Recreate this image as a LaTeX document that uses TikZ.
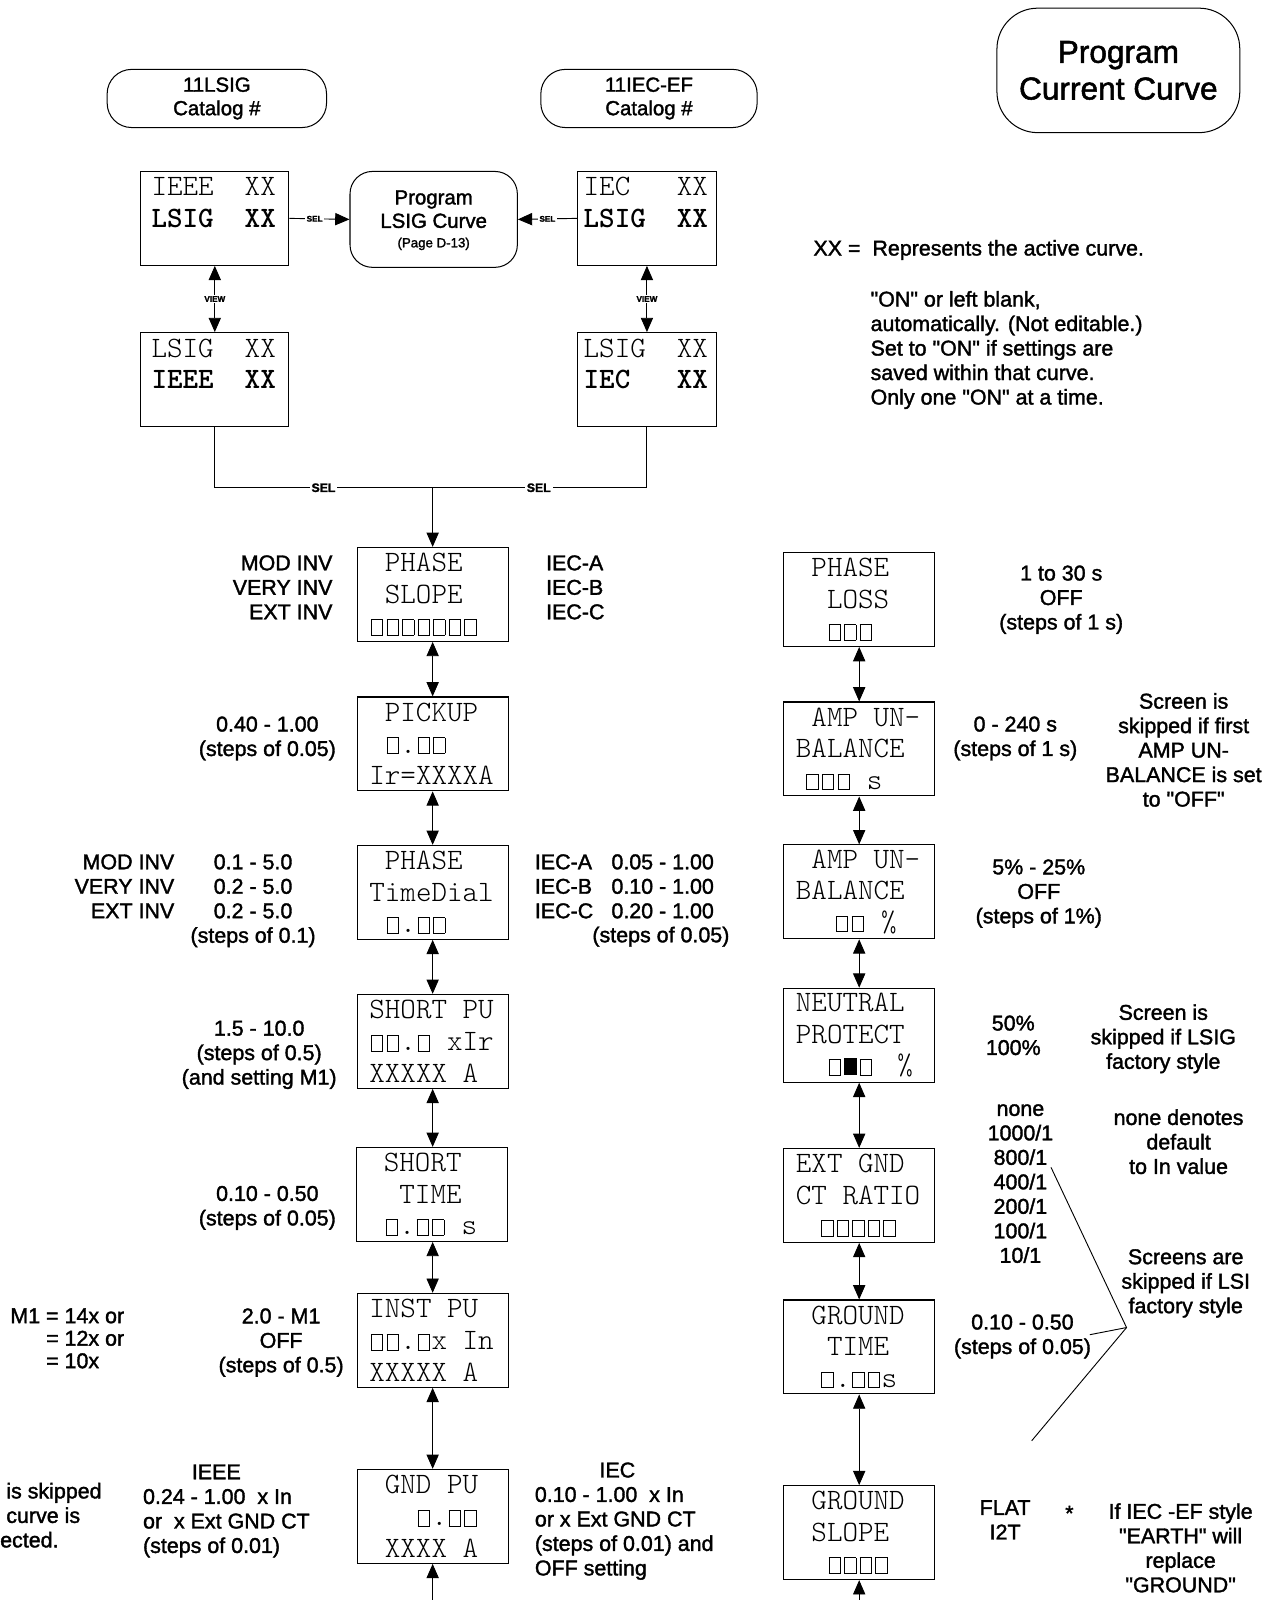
\documentclass[tikz,border=0pt]{standalone}
\usepackage{fontspec}
\setmainfont{Liberation Sans}[Ligatures=TeXOff, FakeBold=1.6]
\newfontfamily\scr{Latin Modern Mono Light}
\usetikzlibrary{arrows.meta}
\newcommand\sq{\makebox[0.525em]{\setlength\fboxsep{0pt}\setlength\fboxrule{0.8pt}\fbox{\rule{0pt}{0.5em}\hspace{0.36em}}}}
\newcommand\sqf{\makebox[0.525em]{\rule{0.42em}{0.56em}}}
\newcommand\ch[1]{\hspace*{#1em}}
\newcommand\spc{\hspace*{0.525em}}
\tikzset{
  screen/.style={draw, line width=1.1pt, minimum width=148pt, minimum height=92pt, inner sep=0pt, text width=124pt, align=left, font=\scr\fontsize{29}{31}\selectfont},
  tscreen/.style={screen, minimum width=145pt},
  rbox/.style={draw, line width=1pt, align=center, inner sep=0pt},
  lab/.style={inner sep=0pt, font=\fontsize{21}{24}\selectfont},
  arr/.style={line width=0.9pt, {Triangle[width=12pt,length=14pt]}-{Triangle[width=12pt,length=14pt]}},
  uarr/.style={line width=0.9pt, -{Triangle[width=12pt,length=14pt]}},
  ln/.style={line width=0.9pt},
  tag/.style={fill=white, inner sep=1.5pt, font=\bfseries\fontsize{8}{9}\selectfont},
  bigtag/.style={fill=white, inner sep=2pt, font=\bfseries\fontsize{12}{13}\selectfont},
}
\begin{document}
\begin{tikzpicture}[x=1pt,y=-1pt]
\useasboundingbox (0,0) rectangle (1258,1568);
\fill[white] (0,0) rectangle (1258,1568);

% top rounded boxes
\node[rbox, rounded corners=24pt, minimum width=215pt, minimum height=57pt, font=\fontsize{20}{23}\selectfont] (c1) at (212.5,96.5) {11LSIG\\Catalog \#};
\node[rbox, rounded corners=24pt, minimum width=212pt, minimum height=57pt, font=\fontsize{20}{23}\selectfont] (c2) at (636,96.5) {11IEC-EF\\Catalog \#};
\node[rbox, rounded corners=40pt, minimum width=238pt, minimum height=122pt, font=\fontsize{31}{36}\selectfont] (pc) at (1096,69) {Program\\Current Curve};

% top screens
\node[tscreen] (ti) at (210.5,214) {IEEE\spc\spc XX\\\textbf{LSIG\spc\spc XX}\\\mbox{}};
\node[tscreen] (li) at (210.5,372) {LSIG\spc\spc XX\\\textbf{IEEE\spc\spc XX}\\\mbox{}};
\node[tscreen, minimum width=136pt] (tc) at (634,214) {IEC\spc\spc\spc XX\\\textbf{LSIG\spc\spc XX}\\\mbox{}};
\node[tscreen, minimum width=136pt] (lc) at (634,372) {LSIG\spc\spc XX\\\textbf{IEC\spc\spc\spc XX}\\\mbox{}};

\node[rbox, rounded corners=22pt, minimum width=164pt, minimum height=94pt] (pl) at (425,215) {};
\node[align=center, inner sep=0pt, font=\fontsize{20}{23}\selectfont] (plt) at (425,205) {Program\\LSIG Curve};
\node[inner sep=0pt, font=\fontsize{13}{15}\selectfont] (plp) at (425,239) {(Page D-13)};

\draw[uarr] (ti.east) -- node[tag, pos=0.42]{SEL} (pl.west);
\draw[uarr] (tc.west) -- node[tag, pos=0.5]{SEL} (pl.east);
\draw[arr] (ti.south) -- node[tag]{VIEW} (li.north);
\draw[arr] (tc.south) -- node[tag]{VIEW} (lc.north);

% left column screens
\node[screen] (ps) at (424,582.5) {\ch{0.525}PHASE\\\ch{0.525}SLOPE\\\sq\sq\sq\sq\sq\sq\sq};
\node[screen] (pk) at (424,729) {\ch{0.525}PICKUP\\\ch{0.525}\sq.\sq\sq\\Ir=XXXXA};
\node[screen] (td) at (424,874.5) {\ch{0.525}PHASE\\TimeDial\\\ch{0.525}\sq.\sq\sq};
\node[screen] (sp) at (424,1020.5) {SHORT\spc PU\\\sq\sq.\sq\spc xIr\\XXXXX\spc A};
\node[screen] (st) at (423,1170.5) {\ch{0.525}SHORT\\\ch{1.05}TIME\\\ch{0.525}\sq.\sq\sq\spc s};
\node[screen] (ip) at (424,1313.5) {INST\spc PU\\\sq\sq.\sq x\spc In\\XXXXX\spc A};
\node[screen] (gp) at (424,1486) {\ch{0.525}GND\spc PU\\\ch{1.575}\sq.\sq\sq\\\ch{0.525}XXXX\spc A};

% right column screens
\node[screen] (pls) at (842,587.5) {\ch{0.525}PHASE\\\ch{1.05}LOSS\\\ch{1.05}\sq\sq\sq};
\node[screen] (au1) at (842,734) {\ch{0.525}AMP\spc UN-\\BALANCE\\\ch{0.3}\sq\sq\sq\spc s};
\node[screen] (au2) at (842,874) {\ch{0.525}AMP\spc UN-\\BALANCE\\\ch{1.3}\sq\sq\spc\%};
\node[screen] (np) at (842,1014.5) {NEUTRAL\\PROTECT\\\ch{1.05}\sq\sqf\sq\ch{0.8}\%};
\node[screen] (eg) at (842,1171.5) {EXT\spc GND\\CT\spc RATIO\\\ch{0.8}\sq\sq\sq\sq\sq};
\node[screen] (gt) at (842,1320) {\ch{0.525}GROUND\\\ch{1.05}TIME\\\ch{0.8}\sq.\sq\sq s};
\node[screen] (gs) at (842,1502) {\ch{0.525}GROUND\\\ch{0.525}SLOPE\\\ch{1.05}\sq\sq\sq\sq};

% SEL junction
\coordinate (jm) at (424,478);
\draw[ln] (li.south) |- (jm) -| (lc.south);
\node[bigtag] (s1) at (317,478) {SEL};
\node[bigtag] (s2) at (528,478) {SEL};
\draw[uarr] (jm) -- (ps.north);

% left column arrows
\draw[arr] (ps.south) -- (pk.north);
\draw[arr] (pk.south) -- (td.north);
\draw[arr] (td.south) -- (sp.north);
\draw[arr] (sp.south) -- (st.north -| sp.south);
\draw[arr] (st.south -| ip.north) -- (ip.north);
\draw[arr] (ip.south) -- (gp.north);
\coordinate (le) at (424,1575);
\draw[uarr] (le) -- (gp.south);

% right column arrows
\draw[arr] (pls.south) -- (au1.north);
\draw[arr] (au1.south) -- (au2.north);
\draw[arr] (au2.south) -- (np.north);
\draw[arr] (np.south) -- (eg.north);
\draw[arr] (eg.south) -- (gt.north);
\draw[arr] (gt.south) -- (gs.north);
\coordinate (re) at (842,1575);
\draw[uarr] (re) -- (gs.south);

% top right notes
\node[lab, anchor=north west] (n1) at (797,235) {XX =\ \ Represents the active curve.};
\node[lab, anchor=north west, align=left] (n2) at (853,285) {"ON" or left blank,\\automatically. (Not editable.)\\Set to "ON" if settings are\\saved within that curve.\\Only one "ON" at a time.};

% left-side labels
\node[lab, anchor=north east, align=right] (l1) at (326,544) {MOD INV\\VERY INV\\EXT INV};
\node[lab, anchor=north west, align=left] (l2) at (535,544) {IEC-A\\IEC-B\\IEC-C};
\node[lab, anchor=north, align=center] (l3) at (262,702) {0.40 - 1.00\\(steps of 0.05)};
\node[lab, anchor=north east, align=right] (l4) at (171,837) {MOD INV\\VERY INV\\EXT INV};
\node[lab, anchor=north, align=center] (l5) at (248,837) {0.1 - 5.0\\0.2 - 5.0\\0.2 - 5.0\\(steps of 0.1)};
\node[lab, anchor=north west, align=left] (l6) at (524,837) {IEC-A\\IEC-B\\IEC-C};
\node[lab, anchor=north west, align=left] (l7) at (599,837) {0.05 - 1.00\\0.10 - 1.00\\0.20 - 1.00};
\node[lab, anchor=north east] (l8) at (715,908) {(steps of 0.05)};
\node[lab, anchor=north, align=center] (l9) at (254,1000) {1.5 - 10.0\\(steps of 0.5)\\(and setting M1)};
\node[lab, anchor=north, align=center] (l10) at (262,1162) {0.10 - 0.50\\(steps of 0.05)};
\node[lab, anchor=north west] (l11) at (10,1281) {\renewcommand\arraystretch{0.92}\begin{tabular}{@{}r@{ }l@{}}M1&= 14x or\\&= 12x or\\&= 10x\end{tabular}};
\node[lab, anchor=north, align=center] (l12) at (275.5,1282) {2.0 - M1\\OFF\\(steps of 0.5)};
\node[lab, anchor=north] (l13) at (212,1435) {IEEE};
\node[lab, anchor=north west, align=left] (l14) at (140,1459) {0.24 - 1.00\ \ x In\\or\ \ x Ext GND CT\\(steps of 0.01)};
\node[lab, anchor=north] (l15) at (605,1433) {IEC};
\node[lab, anchor=north west, align=left] (l16) at (524,1457) {0.10 - 1.00\ \ x In\\or x Ext GND CT\\(steps of 0.01) and\\OFF setting};
\node[lab, anchor=north west, align=left] (l17) at (6,1453) {is skipped\\curve is\\\hspace*{-6pt}ected.};

% right-side labels
\node[lab, anchor=north, align=center] (r1) at (1040,554) {1 to 30 s\\OFF\\(steps of 1 s)};
\node[lab, anchor=north, align=center] (r2) at (995,702) {0 - 240 s\\(steps of 1 s)};
\node[lab, anchor=north, align=center] (r3) at (1160,679) {Screen is\\skipped if first\\AMP UN-\\BALANCE is set\\to "OFF"};
\node[lab, anchor=north, align=center] (r4) at (1018,842) {5\% - 25\%\\OFF\\(steps of 1\%)};
\node[lab, anchor=north, align=center] (r5) at (993,995) {50\%\\100\%};
\node[lab, anchor=north, align=center] (r6) at (1140,984) {Screen is\\skipped if LSIG\\factory style};
\node[lab, anchor=north, align=center] (r7) at (1000,1082) {none\\1000/1\\800/1\\400/1\\200/1\\100/1\\10/1};
\node[lab, anchor=north, align=center] (r8) at (1155,1087) {none denotes\\default\\to In value};
\node[lab, anchor=north, align=center] (r9) at (1162,1224) {Screens are\\skipped if LSI\\factory style};
\node[lab, anchor=north, align=center] (r10) at (1002,1288) {0.10 - 0.50\\(steps of 0.05)};
\node[lab, anchor=north, align=center] (r11) at (985,1470) {FLAT\\I2T};
\node[lab] (r12) at (1048,1483) {*};
\node[lab, anchor=north, align=center] (r13) at (1157,1473) {If IEC -EF style\\"EARTH" will\\replace\\"GROUND"};

% bracket
\coordinate (bv) at (1104,1301);
\coordinate (b1) at (1030,1144);
\coordinate (b2) at (1068,1308);
\coordinate (b3) at (1011,1412);
\draw[ln] (b1) -- (bv) -- (b3);
\draw[ln] (b2) -- (bv);
\end{tikzpicture}
\end{document}
